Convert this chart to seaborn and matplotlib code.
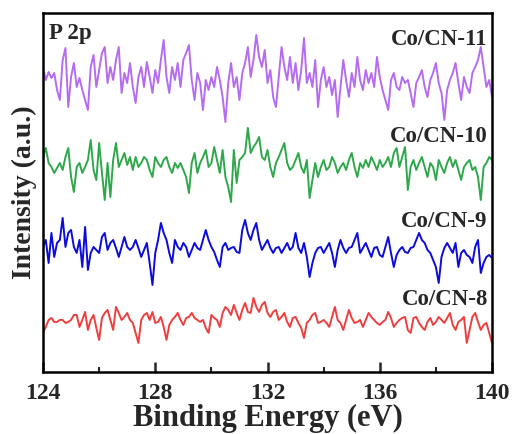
import numpy as np
import pandas as pd
import matplotlib
matplotlib.use('Agg')
import matplotlib.pyplot as plt
import seaborn as sns
from matplotlib.ticker import MultipleLocator

# P 2p XPS spectra, 124-140 eV, 0.1 eV step (stacked, arbitrary units)
energy = np.round(np.arange(124.0, 140.0001, 0.1), 1)

co_cn_11 = [299, 286, 294, 288, 293, 276, 266, 306, 318, 259,
            289, 303, 279, 288, 276, 266, 256, 299, 311, 279,
            296, 313, 319, 283, 299, 286, 306, 319, 273, 293,
            283, 303, 279, 263, 289, 299, 279, 304, 289, 273,
            296, 283, 306, 326, 289, 273, 299, 286, 303, 279,
            306, 313, 321, 286, 266, 293, 283, 256, 286, 276,
            289, 279, 299, 286, 269, 244, 283, 303, 279, 289,
            266, 293, 303, 319, 289, 306, 331, 309, 299, 316,
            283, 296, 269, 259, 289, 319, 299, 286, 309, 283,
            303, 276, 296, 328, 283, 293, 279, 306, 259, 286,
            299, 279, 289, 271, 286, 249, 279, 306, 286, 269,
            293, 279, 309, 286, 276, 296, 283, 293, 279, 309,
            289, 276, 266, 256, 286, 293, 279, 276, 289, 283,
            286, 273, 259, 283, 289, 296, 279, 269, 286, 293,
            303, 283, 273, 246, 276, 286, 293, 303, 283, 266,
            289, 279, 273, 293, 299, 306, 319, 299, 279, 286, 269]

co_cn_10 = [209, 218, 203, 199, 193, 198, 203, 196, 209, 218,
            189, 174, 199, 203, 193, 199, 206, 226, 196, 186,
            223, 193, 166, 203, 169, 206, 223, 199, 206, 213,
            201, 209, 196, 209, 199, 203, 209, 206, 196, 189,
            209, 203, 199, 206, 209, 199, 193, 203, 198, 203,
            196, 189, 173, 203, 213, 193, 203, 209, 216, 199,
            203, 219, 206, 193, 216, 189, 179, 164, 216, 183,
            206, 209, 213, 238, 213, 219, 223, 229, 209, 206,
            216, 199, 189, 203, 209, 216, 223, 203, 196, 199,
            206, 213, 199, 193, 206, 168, 186, 203, 189, 199,
            206, 196, 199, 209, 203, 193, 199, 203, 196, 206,
            213, 199, 189, 203, 198, 206, 199, 209, 203, 196,
            206, 199, 203, 209, 199, 213, 218, 199, 209, 219,
            176, 199, 206, 196, 203, 209, 199, 189, 203, 199,
            186, 206, 199, 193, 203, 209, 199, 206, 196, 186,
            199, 203, 206, 196, 199, 189, 166, 199, 203, 209, 206]

co_cn_9 = [119, 126, 103, 133, 109, 123, 126, 148, 119, 133,
           136, 119, 113, 126, 99, 139, 96, 113, 119, 116,
           113, 129, 133, 116, 123, 126, 118, 109, 119, 129,
           119, 116, 119, 126, 118, 109, 116, 123, 103, 81,
           113, 126, 143, 133, 126, 113, 103, 126, 119, 116,
           123, 119, 109, 116, 123, 118, 116, 126, 136, 126,
           119, 114, 106, 99, 119, 123, 116, 118, 119, 114,
           113, 136, 146, 133, 126, 136, 143, 126, 116, 121,
           126, 118, 113, 118, 119, 113, 118, 123, 116, 119,
           133, 118, 113, 123, 109, 89, 103, 113, 118, 119,
           113, 118, 123, 113, 99, 116, 126, 118, 113, 118,
           119, 126, 133, 113, 118, 123, 116, 109, 118, 119,
           111, 109, 119, 129, 113, 99, 111, 116, 119, 114,
           113, 118, 119, 126, 133, 126, 123, 116, 113, 106,
           99, 83, 109, 118, 123, 118, 113, 123, 99, 113,
           116, 111, 109, 103, 119, 126, 93, 103, 109, 111, 108]

co_cn_8 = [33, 39, 46, 48, 44, 44, 46, 46, 43, 44,
           46, 51, 51, 39, 46, 54, 36, 46, 51, 38,
           26, 48, 53, 56, 46, 36, 59, 53, 46, 49,
           53, 46, 43, 33, 23, 46, 51, 53, 46, 54,
           43, 44, 49, 39, 26, 41, 46, 49, 53, 46,
           41, 48, 49, 53, 48, 46, 44, 46, 38, 33,
           51, 48, 46, 39, 53, 59, 56, 51, 61, 53,
           46, 56, 63, 54, 53, 68, 59, 54, 61, 64,
           53, 49, 54, 56, 46, 49, 53, 44, 39, 48,
           49, 43, 38, 28, 43, 46, 51, 53, 43, 44,
           46, 43, 39, 49, 59, 46, 43, 36, 46, 56,
           48, 43, 44, 46, 39, 46, 53, 49, 46, 43,
           41, 44, 46, 54, 48, 39, 43, 46, 48, 49,
           36, 33, 48, 49, 43, 39, 36, 44, 48, 41,
           44, 49, 46, 43, 48, 53, 41, 36, 44, 46,
           49, 23, 36, 49, 53, 44, 36, 41, 43, 33, 23]

samples = ['Co/CN-11', 'Co/CN-10', 'Co/CN-9', 'Co/CN-8']
colors = ['#B56CF0', '#2FA84C', '#0B0BDC', '#EE3E3E']
label_y = [327, 229, 144, 66]

df = pd.concat([
    pd.DataFrame({'energy': energy, 'intensity': vals, 'sample': name})
    for name, vals in zip(samples, [co_cn_11, co_cn_10, co_cn_9, co_cn_8])
])

sns.set_theme(style='ticks')
plt.rcParams['font.family'] = ['Liberation Serif', 'DejaVu Serif']
plt.rcParams['font.weight'] = 'bold'

fig = plt.figure(figsize=(5.12, 4.34), dpi=100, facecolor='white')
ax = fig.add_axes([0.084, 0.143, 0.877, 0.827])

sns.lineplot(data=df, x='energy', y='intensity', hue='sample', hue_order=samples,
             palette=colors, estimator=None, sort=False, legend=False,
             linewidth=1.4, ax=ax)

ax.set_xlim(124, 140)
ax.set_ylim(-6, 353)
ax.xaxis.set_major_locator(MultipleLocator(4))
ax.xaxis.set_minor_locator(MultipleLocator(2))
ax.tick_params(axis='x', which='major', direction='in', length=7, width=1.8,
               labelsize=17, pad=8, top=False)
ax.tick_params(axis='x', which='minor', direction='in', length=3.5, width=1.5, top=False)
ax.set_yticks([])
for s in ax.spines.values():
    s.set_linewidth(1.8)
    s.set_color('black')

for lab in ax.get_xticklabels():
    lab.set_fontweight('bold')

ax.set_xlabel('Binding Energy (eV)', fontsize=22, fontweight='bold', labelpad=0)
ax.set_ylabel('Intensity (a.u.)', fontsize=20, fontweight='bold', labelpad=4)

for name, y in zip(samples, label_y):
    ax.text(139.85, y, name, ha='right', va='center', fontsize=16.5, fontweight='bold')
ax.text(124.2, 333, 'P 2p', ha='left', va='center', fontsize=16.5, fontweight='bold')

fig.savefig('out.png', dpi=100, facecolor='white')
